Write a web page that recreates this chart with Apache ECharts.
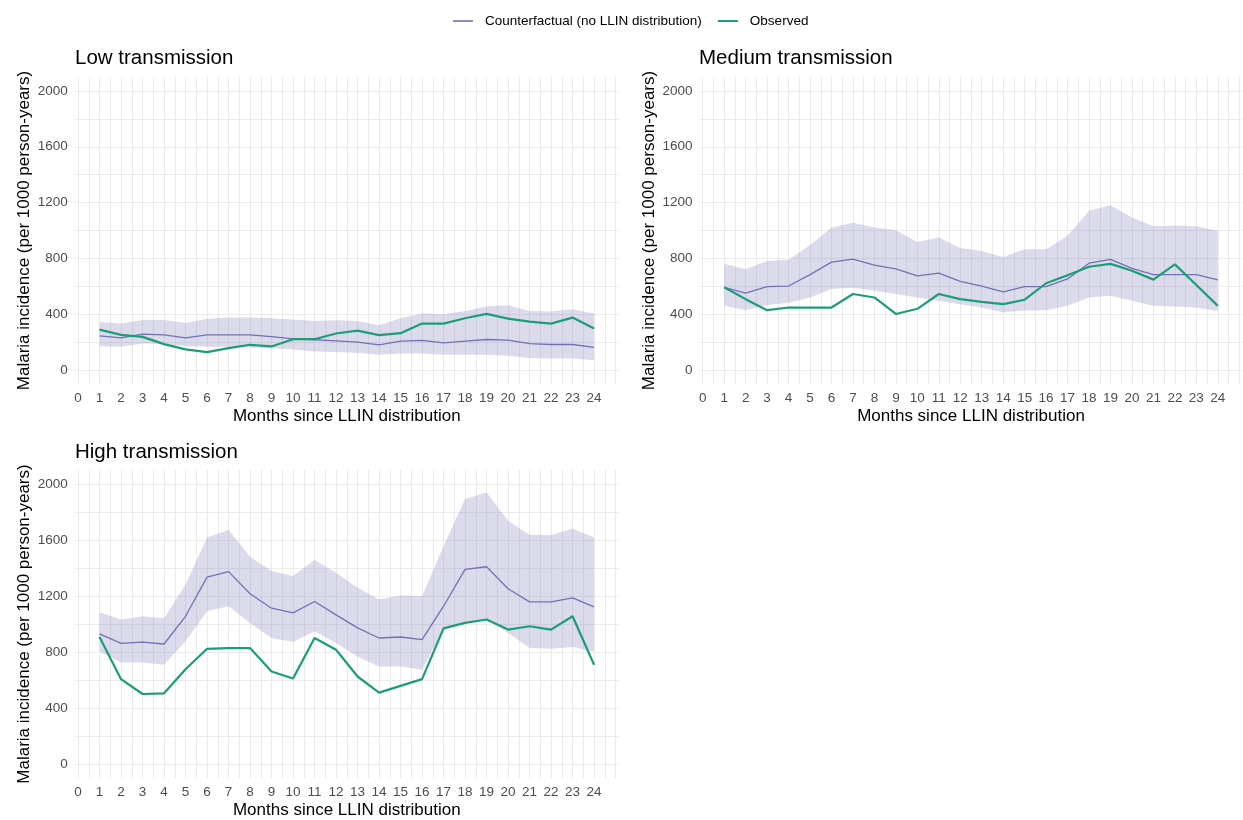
<!DOCTYPE html>
<html>
<head>
<meta charset="utf-8">
<script src="https://cdn.jsdelivr.net/npm/echarts@6/dist/echarts.min.js"></script>
<style>
html,body{margin:0;padding:0;background:#fff;}
#chart{width:1243px;height:820px;}
</style>
</head>
<body>
<div id="chart"></div>
<script>
// ---- data ----
const months = [1,2,3,4,5,6,7,8,9,10,11,12,13,14,15,16,17,18,19,20,21,22,23,24];
const xTickLabels = [0,1,2,3,4,5,6,7,8,9,10,11,12,13,14,15,16,17,18,19,20,21,22,23,24];
const yTickLabels = [0,400,800,1200,1600,2000];

const lowObserved = [290,252,238,186,148,129,157,181,169,221,221,262,283,250,264,333,333,371,402,369,347,333,376,298];
const lowCounter  = [245,231,257,252,231,252,252,252,240,224,217,209,200,181,207,212,195,207,219,214,190,183,183,162];
const lowUpper    = [345,333,359,359,338,367,376,376,371,362,352,357,352,321,371,405,400,424,455,464,424,419,436,405];
const lowLower    = [171,167,190,186,171,167,167,162,157,148,133,129,124,109,119,119,109,109,109,102,86,83,83,71];

const medObserved = [593,508,429,448,448,448,545,520,402,439,545,508,489,472,504,622,680,740,761,711,648,757,610,460];
const medCounter  = [593,552,598,602,684,773,795,752,725,675,694,636,602,561,598,598,653,766,793,728,684,684,684,646];
const medUpper    = [761,723,781,790,896,1019,1056,1022,1002,918,950,875,853,810,865,865,962,1142,1181,1094,1031,1036,1031,998];
const medLower    = [460,429,467,482,520,581,590,569,545,520,496,472,448,412,429,429,460,520,533,496,460,455,448,424];

const highObserved = [907,606,500,505,677,823,828,828,661,611,900,816,625,510,558,606,969,1008,1032,960,984,960,1055,709];
const highCounter  = [929,862,871,857,1055,1335,1374,1216,1113,1079,1161,1065,972,900,907,888,1127,1390,1409,1252,1158,1158,1187,1122];
const highUpper    = [1084,1032,1055,1041,1283,1618,1673,1481,1378,1342,1457,1366,1259,1175,1204,1199,1558,1893,1940,1737,1637,1634,1682,1618];
const highLower    = [804,725,725,709,876,1091,1127,1008,900,871,948,864,768,697,697,673,960,1008,1039,936,828,823,835,804];

const panelTitles = ['Low transmission','Medium transmission','High transmission'];
const seriesNames = ['Counterfactual (no LLIN distribution)','Observed'];

// ---- build ----
const FONT = '"Liberation Sans", Arial, sans-serif';
const COL_CF = '#7570b3';
const COL_OBS = '#1b9e77';
const BAND = 'rgba(117,112,179,0.25)';
const xSplit = []; for (let v = 0; v <= 50; v++) xSplit.push(v/2);
const ySplit = []; for (let v = 0; v <= 2000; v += 200) ySplit.push(v);

const panels = [
  {obs: lowObserved, cf: lowCounter, up: lowUpper, lo: lowLower},
  {obs: medObserved, cf: medCounter, up: medUpper, lo: medLower},
  {obs: highObserved, cf: highCounter, up: highUpper, lo: highLower}
];
const grids = [
  {left: 74.8, top: 77, width: 544, height: 307},
  {left: 699.5, top: 77, width: 543, height: 307},
  {left: 74.8, top: 470, width: 544, height: 308}
];
const titlePos = [{left: 75, top: 48},{left: 699, top: 48},{left: 75, top: 442}];

const pair = (arr) => months.map((m, i) => [m, arr[i]]);

const option = {
  backgroundColor: '#ffffff',
  animation: false,
  textStyle: {fontFamily: FONT},
  title: panelTitles.map((t, i) => ({
    text: t, left: titlePos[i].left, top: titlePos[i].top, padding: 0,
    textStyle: {fontFamily: FONT, fontSize: 20.5, fontWeight: 'normal', color: '#000'}
  })),
  legend: {
    data: [
      {name: seriesNames[0], icon: 'rect', itemStyle: {color: '#8f8cbf'}},
      {name: seriesNames[1], icon: 'rect', itemStyle: {color: COL_OBS}}
    ],
    left: 448, top: 9,
    itemWidth: 20, itemHeight: 2, itemGap: 16,
    textStyle: {fontFamily: FONT, fontSize: 13.5, color: '#000', padding: [0,0,0,7]}
  },
  grid: grids.map(g => Object.assign({containLabel: false}, g)),
  xAxis: grids.map((g, i) => ({
    type: 'value', gridIndex: i, min: -0.15, max: 25.15,
    name: 'Months since LLIN distribution', nameLocation: 'middle', nameGap: 24,
    nameTextStyle: {fontFamily: FONT, fontSize: 17, color: '#000'},
    axisLine: {show: false},
    axisTick: {show: false, customValues: xSplit},
    axisLabel: {customValues: xTickLabels, fontFamily: FONT, fontSize: 13.5, color: '#4d4d4d', margin: 7,
      formatter: v => String(v)},
    splitLine: {show: true, lineStyle: {color: '#ebebeb', width: 1}}
  })),
  yAxis: grids.map((g, i) => ({
    type: 'value', gridIndex: i, min: -100, max: 2100,
    name: 'Malaria incidence (per 1000 person-years)', nameLocation: 'middle', nameGap: 42,
    nameTextStyle: {fontFamily: FONT, fontSize: 17, color: '#000'},
    axisLine: {show: false},
    axisTick: {show: false, customValues: ySplit},
    axisLabel: {customValues: yTickLabels, fontFamily: FONT, fontSize: 13.5, color: '#4d4d4d', margin: 7,
      formatter: v => String(v)},
    splitLine: {show: true, lineStyle: {color: '#ebebeb', width: 1}}
  })),
  series: []
};

panels.forEach((p, i) => {
  option.series.push({
    name: 'ci-band-' + i, type: 'custom', xAxisIndex: i, yAxisIndex: i,
    silent: true, z: 1,
    data: months.map((m, k) => [m, p.lo[k], p.up[k]]),
    encode: {x: 0, y: [1, 2]},
    renderItem: function (params, api) {
      if (params.dataIndex !== 0) return null;
      const pts = [];
      for (let k = 0; k < months.length; k++) pts.push(api.coord([months[k], p.up[k]]));
      for (let k = months.length - 1; k >= 0; k--) pts.push(api.coord([months[k], p.lo[k]]));
      return {type: 'polygon', shape: {points: pts}, style: {fill: BAND}};
    }
  });
  option.series.push({
    name: seriesNames[0], type: 'line', xAxisIndex: i, yAxisIndex: i,
    symbol: 'none', color: COL_CF, lineStyle: {color: COL_CF, width: 1.3},
    data: pair(p.cf), z: 3
  });
  option.series.push({
    name: seriesNames[1], type: 'line', xAxisIndex: i, yAxisIndex: i,
    symbol: 'none', color: COL_OBS, lineStyle: {color: COL_OBS, width: 2.2},
    data: pair(p.obs), z: 4
  });
});

const chart = echarts.init(document.getElementById('chart'), null, {renderer: 'canvas'});
chart.setOption(option);
</script>
</body>
</html>
